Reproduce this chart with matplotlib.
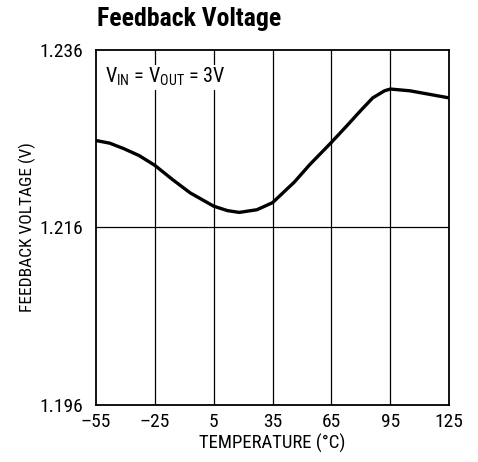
import matplotlib
matplotlib.use("Agg")
import matplotlib.pyplot as plt

# values
temp_c = [-55, -48, -41, -33, -25, -16, -7, 5, 12, 18, 27, 35,
          46, 54, 65, 73, 80, 86, 92, 95, 105, 115, 125]
feedback_v = [1.2258, 1.2255, 1.2249, 1.2241, 1.2230, 1.2214, 1.2199, 1.2184, 1.2179, 1.2177, 1.2180, 1.2188,
              1.2211, 1.2231, 1.2256, 1.2275, 1.2292, 1.2306, 1.2314, 1.2316, 1.2314, 1.2310, 1.2306]

x_ticks = [-55, -25, 5, 35, 65, 95, 125]
x_labels = ["\u201355", "\u201325", "5", "35", "65", "95", "125"]
y_ticks = [1.196, 1.216, 1.236]

fam = ["Roboto Condensed", "Archivo Narrow", "DejaVu Sans"]
plt.rcParams["font.family"] = fam
plt.rcParams["mathtext.fontset"] = "custom"
plt.rcParams["mathtext.rm"] = "Roboto Condensed"

fig = plt.figure(figsize=(4.78, 4.62), dpi=100)
ax = fig.add_axes([0.2008, 0.1234, 0.739, 0.7684])

ax.plot(temp_c, feedback_v, color="black", lw=2.4, solid_joinstyle="round")

ax.set_xlim(-55, 125)
ax.set_ylim(1.196, 1.236)
ax.set_xticks(x_ticks)
ax.set_xticklabels(x_labels)
ax.set_yticks(y_ticks)
ax.set_yticklabels(["1.196", "1.216", "1.236"])
ax.tick_params(length=0, labelsize=14, pad=6)
ax.tick_params(axis="y", pad=9)

for x in x_ticks[1:-1]:
    ax.axvline(x, color="black", lw=0.9)
ax.axhline(1.216, color="black", lw=0.9)
for s in ax.spines.values():
    s.set_linewidth(1.3)

ax.set_xlabel("TEMPERATURE (\u00b0C)", fontsize=13.5, labelpad=2)
ax.set_ylabel("FEEDBACK VOLTAGE (V)", fontsize=12.5, labelpad=3)

ax.text(0.025, 0.955, r"V$_{\mathrm{IN}}$ = V$_{\mathrm{OUT}}$ = 3V", transform=ax.transAxes,
        fontsize=14.5, va="top", ha="left",
        bbox=dict(facecolor="white", edgecolor="none", pad=1))

fig.text(0.203, 0.933, "Feedback Voltage", fontsize=18.5, fontweight="bold", ha="left", va="bottom")

fig.savefig("out.png", dpi=100)
